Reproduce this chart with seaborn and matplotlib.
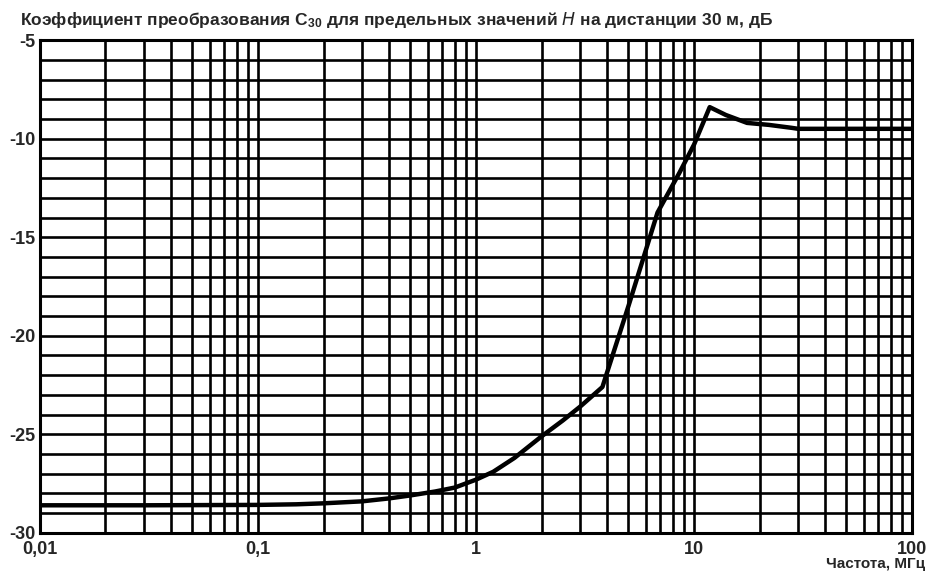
import numpy as np
import pandas as pd
import seaborn as sns
import matplotlib.pyplot as plt
from matplotlib.ticker import FixedLocator, NullFormatter

# values
freq_mhz = [0.01, 0.03, 0.1, 0.15, 0.2, 0.3, 0.4, 0.5, 0.65, 0.8, 1.0, 1.2, 1.5, 2.0, 2.5, 3.0, 3.8,
            5.0, 6.8, 8.6, 10.0, 11.8, 14.0, 17.5, 22.0, 28.0, 30.0, 50.0, 100.0]
coef_db = [-28.6, -28.6, -28.58, -28.55, -28.5, -28.4, -28.25, -28.1, -27.9, -27.7, -27.3, -26.9,
           -26.2, -25.1, -24.3, -23.6, -22.6,
           -18.5, -13.75, -11.7, -10.3, -8.4, -8.8, -9.2, -9.3, -9.45, -9.5, -9.5, -9.5]
xtick_vals = [0.01, 0.1, 1, 10, 100]
xtick_labels = ["0,01", "0,1", "1", "10", "100"]
ytick_vals = [-30, -25, -20, -15, -10, -5]

df = pd.DataFrame({"f": freq_mhz, "c": coef_db})

sns.set_style("white")
plt.rcParams["font.family"] = ["Liberation Sans", "DejaVu Sans"]
plt.rcParams["mathtext.default"] = "regular"

fig = plt.figure(figsize=(9.26, 5.73), dpi=100)
ax = fig.add_axes([0.043, 0.070, 0.942, 0.860])

# grid: every 1 dB and every log minor step
for y in range(-30, -4):
    ax.axhline(y, color="black", lw=1.9, zorder=1)
minor_x = [m * 10.0 ** e for e in range(-2, 2) for m in range(1, 10)] + [100]
for x in minor_x:
    ax.axvline(x, color="black", lw=1.9, zorder=1)

sns.lineplot(data=df, x="f", y="c", ax=ax, color="black", lw=3.2, zorder=3)

ax.set_xscale("log")
ax.set_xlim(0.01, 100)
ax.set_ylim(-30, -5)
ax.xaxis.set_major_locator(FixedLocator(xtick_vals))
ax.xaxis.set_minor_locator(FixedLocator([]))
ax.xaxis.set_minor_formatter(NullFormatter())
ax.set_xticks(xtick_vals, xtick_labels)
ax.set_yticks(ytick_vals, [str(v) for v in ytick_vals])
ax.tick_params(length=0, labelsize=13)
ax.tick_params(axis="x", pad=6)
ax.tick_params(axis="y", pad=3)
for lab in ax.get_xticklabels() + ax.get_yticklabels():
    lab.set_fontweight("bold")
ax.set_xlabel("")
ax.set_ylabel("")
for s in ax.spines.values():
    s.set_linewidth(2.2)
    s.set_color("black")

fig.text(0.022, 0.965,
         "Коэффициент преобразования C$_{30}$ для предельных значений $\\mathit{H}$ на дистанции 30 м, дБ",
         fontsize=12.5, fontweight="bold", ha="left", va="center")
fig.text(0.999, 0.015, "Частота, МГц", fontsize=11, fontweight="bold", ha="right", va="center")

fig.savefig("out.png", dpi=100, facecolor="white")
